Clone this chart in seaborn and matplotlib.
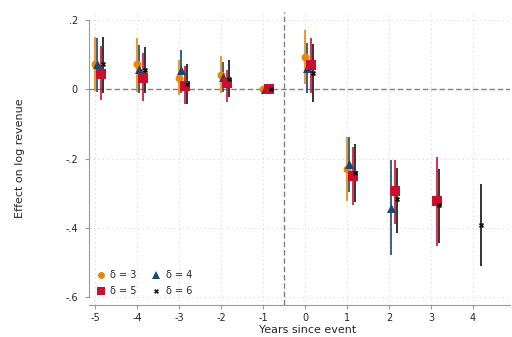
import numpy as np
import pandas as pd
import matplotlib
matplotlib.use("Agg")
import matplotlib.pyplot as plt
import seaborn as sns
from matplotlib.lines import Line2D

# event-study estimates for four window lengths (delta)
years = [-5, -4, -3, -2, -1, 0, 1, 2, 3, 4]

d3_coef = [0.074, 0.074, 0.034, 0.042, 0.0, 0.093, -0.231]
d3_lo = [-0.005, -0.008, -0.017, -0.012, 0.0, 0.016, -0.323]
d3_hi = [0.151, 0.148, 0.086, 0.095, 0.0, 0.170, -0.138]

d4_coef = [0.074, 0.060, 0.055, 0.036, 0.0, 0.062, -0.215, -0.342]
d4_lo = [-0.008, -0.012, -0.012, -0.008, 0.0, -0.012, -0.296, -0.479]
d4_hi = [0.149, 0.129, 0.115, 0.079, 0.0, 0.135, -0.139, -0.203]

d5_coef = [0.045, 0.034, 0.011, 0.019, 0.0, 0.069, -0.251, -0.294, -0.323]
d5_lo = [-0.032, -0.035, -0.041, -0.037, 0.0, -0.012, -0.335, -0.390, -0.453]
d5_hi = [0.124, 0.105, 0.066, 0.057, 0.0, 0.149, -0.168, -0.203, -0.195]

d6_coef = [0.074, 0.055, 0.016, 0.031, 0.0, 0.047, -0.241, -0.318, -0.335, -0.392]
d6_lo = [-0.012, -0.012, -0.041, -0.022, 0.0, -0.037, -0.325, -0.415, -0.443, -0.511]
d6_hi = [0.151, 0.122, 0.074, 0.084, 0.0, 0.130, -0.157, -0.226, -0.229, -0.274]

series = {
    "δ = 3": (d3_coef, d3_lo, d3_hi),
    "δ = 4": (d4_coef, d4_lo, d4_hi),
    "δ = 5": (d5_coef, d5_lo, d5_hi),
    "δ = 6": (d6_coef, d6_lo, d6_hi),
}
offsets = {"δ = 3": 0.0, "δ = 4": 0.05, "δ = 5": 0.15, "δ = 6": 0.2}
colors = {"δ = 3": "#e8850c", "δ = 4": "#1a476f", "δ = 5": "#c8102e", "δ = 6": "#111111"}
markers = {"δ = 3": "o", "δ = 4": "^", "δ = 5": "s", "δ = 6": "X"}
sizes = {"δ = 3": 32, "δ = 4": 42, "δ = 5": 60, "δ = 6": 14}

rows = []
for name, (coef, lo, hi) in series.items():
    for i in range(len(coef)):
        rows.append({"delta": name, "year": years[i], "x": years[i] + offsets[name],
                     "coef": coef[i], "lo": lo[i], "hi": hi[i]})
df = pd.DataFrame(rows)

sns.set_style("white")
fig = plt.figure(figsize=(5.12, 3.37), dpi=100)
ax = fig.add_axes([0.174, 0.095, 0.822, 0.87])

# dotted grid
for t in years:
    ax.axvline(t, color="#d8d8d8", linestyle=(0, (1, 3)), linewidth=0.8, zorder=0)
for t in [0.2, -0.2, -0.4, -0.6]:
    ax.axhline(t, color="#d8d8d8", linestyle=(0, (1, 3)), linewidth=0.8, zorder=0)

ax.axhline(0, color="#808080", linestyle=(0, (4, 2)), linewidth=1.0, zorder=1)
ax.axvline(-0.5, color="#808080", linestyle=(0, (4, 2)), linewidth=1.0, zorder=1)

# confidence intervals
for name in series:
    sub = df[df["delta"] == name]
    ax.vlines(sub["x"], sub["lo"], sub["hi"], color=colors[name], linewidth=1.2, zorder=2)

for name in series:
    sub = df[df["delta"] == name]
    sns.scatterplot(data=sub, x="x", y="coef", color=colors[name], marker=markers[name],
                    s=sizes[name], linewidth=0, ax=ax, zorder=3, legend=False)

ax.set_xlim(-5.143, 4.88)
ax.set_ylim(-0.623, 0.224)
ax.set_xticks(years)
ax.set_xticklabels([str(t) for t in years])
ax.set_yticks([0.2, 0, -0.2, -0.4, -0.6])
ax.set_yticklabels([".2", "0", "-.2", "-.4", "-.6"])
ax.tick_params(axis="both", labelsize=7, length=3, width=0.8, color="#999999",
               direction="out", pad=3, left=True, bottom=True)
ax.tick_params(axis="y", pad=5)

ax.spines["top"].set_visible(False)
ax.spines["right"].set_visible(False)
ax.spines["left"].set_bounds(-0.6, 0.2)
ax.spines["left"].set_color("#999999")
ax.spines["bottom"].set_color("#999999")
ax.spines["left"].set_linewidth(0.8)
ax.spines["bottom"].set_linewidth(0.8)

ax.set_xlabel("Years since event", fontsize=8)
ax.xaxis.set_label_coords(0.52, -0.068)
ax.set_ylabel("Effect on log revenue", fontsize=8)
ax.yaxis.set_label_coords(-0.152, 0.5)

order = ["δ = 3", "δ = 5", "δ = 4", "δ = 6"]
handles = [Line2D([], [], linestyle="none", marker=markers[n], color=colors[n],
                  markersize={"δ = 3": 5, "δ = 4": 6, "δ = 5": 6, "δ = 6": 3.5}[n],
                  markeredgewidth=0) for n in order]
ax.legend(handles, order, loc="lower left", bbox_to_anchor=(-0.005, 0.0), ncol=2,
          frameon=False, fontsize=7, handlelength=1.0, handletextpad=0.5,
          columnspacing=1.5, labelspacing=0.6)

fig.savefig("out.png", dpi=100)
